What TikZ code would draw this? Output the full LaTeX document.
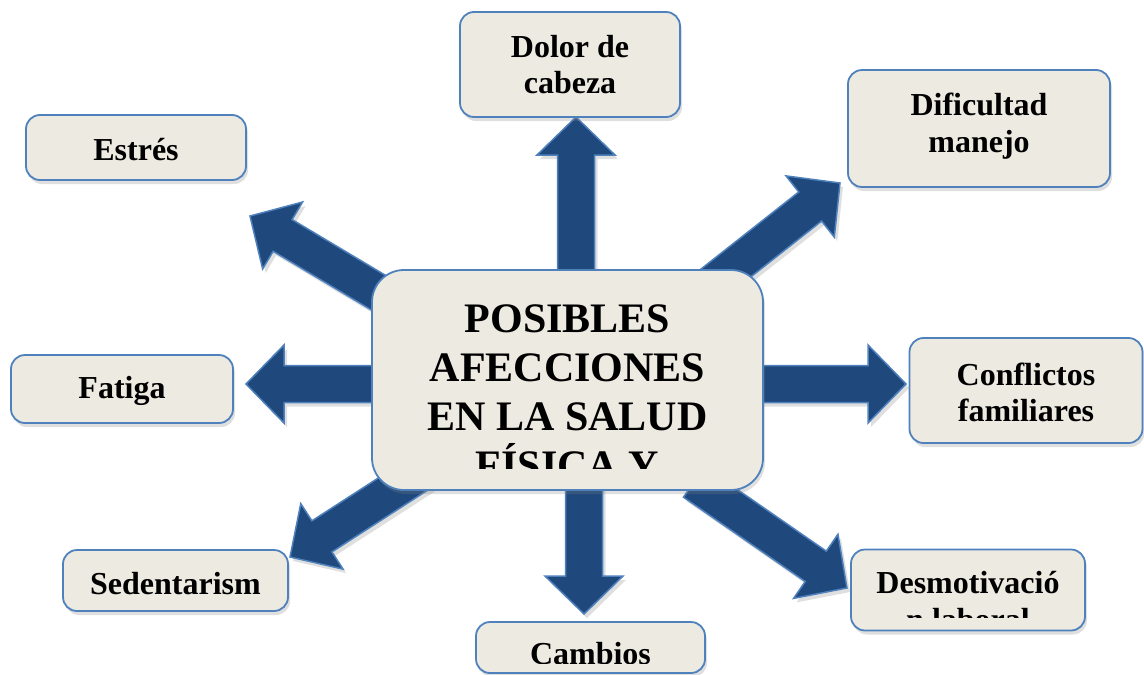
\documentclass[tikz,border=0pt]{standalone}
\usepackage{fontspec}
\setmainfont{Liberation Serif}
\usetikzlibrary{calc,shadows}
\definecolor{arrfill}{RGB}{31,73,125}
\definecolor{arredge}{RGB}{79,129,189}
\definecolor{boxfill}{RGB}{236,234,225}
\tikzset{
  boxshape/.style={draw=arredge, line width=1.8pt, fill=boxfill, rounded corners=14pt,
    drop shadow={shadow xshift=2pt, shadow yshift=-4pt, opacity=0.25}},
  arrowshape/.style={draw=arredge, line width=1.5pt, fill=arrfill, line join=miter,
    drop shadow={shadow xshift=3pt, shadow yshift=-4pt, opacity=0.25}},
  smalltxt/.style={font=\bfseries\fontsize{32}{37}\selectfont, inner sep=0pt, anchor=base},
  bigtxt/.style={font=\bfseries\fontsize{42}{49}\selectfont, inner sep=0pt, anchor=base},
}
\newcommand\blockarrow[2]{%
  \path[arrowshape] let \p1=($(#2)-(#1)$), \n1={atan2(\y1,\x1)}, \n2={veclen(\x1,\y1)} in
    [shift={(#1)}, rotate=\n1]
    (0pt,-18.5pt) -- ({\n2-38pt},-18.5pt) -- ({\n2-38pt},-39pt) -- ({\n2},0pt)
    -- ({\n2-38pt},39pt) -- ({\n2-38pt},18.5pt) -- (0pt,18.5pt) -- cycle;}
\begin{document}
\begin{tikzpicture}[x=1pt,y=-1pt]
\useasboundingbox (0,0) rectangle (1144,675);

% arrow end points
\coordinate (sUp) at (576,300);   \coordinate (tUp) at (576,117);
\coordinate (sUL) at (446,333);   \coordinate (tUL) at (250,216);
\coordinate (sUR) at (684,306);   \coordinate (tUR) at (840,183);
\coordinate (sR)  at (740,384);   \coordinate (tR)  at (906,384);
\coordinate (sL)  at (400,384);   \coordinate (tL)  at (246,384);
\coordinate (sLL) at (448,455);   \coordinate (tLL) at (290,557);
\coordinate (sD)  at (584,460);   \coordinate (tD)  at (584,614);
\coordinate (sLR) at (694,482);   \coordinate (tLR) at (847,588);

\blockarrow{sUp}{tUp}
\blockarrow{sUL}{tUL}
\blockarrow{sUR}{tUR}
\blockarrow{sR}{tR}
\blockarrow{sL}{tL}
\blockarrow{sLL}{tLL}
\blockarrow{sD}{tD}
\blockarrow{sLR}{tLR}

% centre
\node[boxshape, rounded corners=32pt, minimum width=391pt, minimum height=220pt] (center) at (567.5,380) {};
\begin{scope}
  \clip (380,280) rectangle (755,468);
  \node[bigtxt] (c1) at (567.5,332) {POSIBLES};
  \node[bigtxt] (c2) at (567.5,381) {AFECCIONES};
  \node[bigtxt] (c3) at (567.5,430) {EN LA SALUD};
  \node[bigtxt] (c4) at (567.5,479) {FÍSICA Y};
\end{scope}

% outer boxes
\node[boxshape, minimum width=220pt, minimum height=105pt] (dolor) at (570,64.5) {};
\node[smalltxt] (dolor1) at (570,57) {Dolor de};
\node[smalltxt] (dolor2) at (570,93) {cabeza};

\node[boxshape, minimum width=262pt, minimum height=117pt] (dific) at (979,128.5) {};
\node[smalltxt] (dific1) at (979,115) {Dificultad};
\node[smalltxt] (dific2) at (979,152) {manejo};

\node[boxshape, minimum width=220pt, minimum height=65pt] (estres) at (136,147.5) {};
\node[smalltxt] (estres1) at (136,160) {Estrés};

\node[boxshape, minimum width=222pt, minimum height=68pt] (fatiga) at (122,389) {};
\node[smalltxt] (fatiga1) at (122,398) {Fatiga};

\node[boxshape, minimum width=233pt, minimum height=105pt] (confl) at (1026,390.5) {};
\node[smalltxt] (confl1) at (1026,385) {Conflictos};
\node[smalltxt] (confl2) at (1026,421) {familiares};

\node[boxshape, minimum width=225pt, minimum height=61pt] (sedent) at (175.5,580.5) {};
\node[smalltxt] (sedent1) at (175.5,594) {Sedentarism};

\node[boxshape, minimum width=229pt, minimum height=51pt] (cambios) at (590.5,647.5) {};
\begin{scope}
  \clip (480,626) rectangle (700,663);
  \node[smalltxt] (cambios1) at (590.5,664) {Cambios};
\end{scope}

\node[boxshape, minimum width=234pt, minimum height=81pt] (desmot) at (968,590) {};
\begin{scope}
  \clip (856,554) rectangle (1080,617);
  \node[smalltxt] (desmot1) at (968,593) {Desmotivació};
  \node[smalltxt] (desmot2) at (968,630) {n laboral};
\end{scope}
\end{tikzpicture}
\end{document}
